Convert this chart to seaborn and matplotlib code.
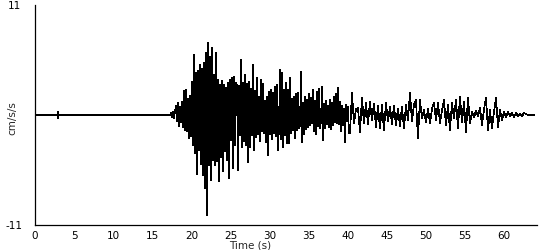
import numpy as np
import pandas as pd
import matplotlib
matplotlib.use("Agg")
import matplotlib.pyplot as plt
import seaborn as sns

# ---- data ----
# quiet part of the record (time s, cm/s/s)
pre_time = [0.0, 2.90, 2.94, 2.98, 3.02, 17.30]
pre_acc = [0.0, 0.0, 0.3, -0.3, 0.0, 0.0]

# strong-motion part, sampled every ~0.128 s starting at 17.39 s
strong_start = 17.39
strong_step = 0.1279
strong_acc = [
    0.2, -0.2, 0.3, -0.3, 0.4,
    0.9, -0.6, 1.2, -1.1, 0.8, -0.7, 1.3, -1.2,
    2.4, -1.5, 2.5, -1.6, 1.6, -2.3, 1.9,
    -2.1, 3.3, -3.0, 6.0, -3.8, 4.2, -5.9, 4.4, -3.5, 5.0,
    -4.9, 4.6, -6.0, 5.2, -7.3, 6.2, -10.0, 7.2, -5.0, 5.8,
    -6.5, 6.7, -4.5, 4.0, -5.0, 6.2, -4.6, 3.5, -6.6, 3.0,
    -4.2, 3.4, -5.6, 3.0, -3.6, 2.7, -4.5, 3.2, -6.3, 3.5,
    -2.5, 3.7, -5.3, 3.8, -3.0, 3.2, 3.0, -5.5, 2.9, -2.0,
    5.5, -3.2, 3.2, -2.6, 4.0, -3.0, 3.1, -4.7, 3.3, -3.2,
    2.6, -2.0, 5.0, -3.5, 2.4, -2.2, 3.7, -1.9, 1.8, -2.6,
    3.5, -1.6, 3.1, -1.8, 1.4, -2.7, 1.8, -4.0, 2.3, -1.9,
    2.5, -2.4, 2.2, -1.8, 2.8, -2.1, 3.0, -3.5, -1.2, 4.5,
    -2.4, 4.2, -3.2, 2.5, -2.0, 3.2, -2.8, 2.5, -2.8, 3.7,
    -1.8, 1.6, -1.5, 1.8, -2.3, 2.1, -1.5, 2.2, -1.3, -1.0,
    4.3, -2.7, 1.2, -1.9, 1.8, -1.4, 1.5, -1.2, 2.1, -1.0,
    1.7, -0.8, 2.5, -1.6, 1.4, -1.9, 2.3, -1.1, 2.6, -1.3,
    -0.6, 2.8, -2.5, 1.1, -1.3, 1.4, -0.9, 0.9, -1.2, 1.5,
    -1.4, 1.2, -1.0, 1.8, -0.7, 2.1, -0.8, 2.7, -0.9, 1.3,
    -1.6, 0.9, -1.0, 0.6, -2.7, 1.0, -0.6, 0.8, -1.8,
]

# coda, sampled every ~0.256 s starting at 40.28 s
coda_start = 40.28
coda_step = 0.2558
coda_acc = [
    -1.8, 2.2, -0.8, 0.6, 0.7, -1.7, 1.7, -0.8, 1.2, -0.9,
    1.3, -0.5, 1.1, -1.2, 0.9, -1.3, 1.0, -1.5, 1.2, -0.6,
    0.8, -0.9, 0.9, -1.0, 0.6, -1.1, 0.8, -1.3, 1.0, -0.5,
    2.2, -0.6, 1.0, 1.5, -2.3, 1.5, -0.3, 0.5, -0.7, 0.6,
    -0.8, 0.6, 1.2, -0.5, 1.2, -0.8, 0.4, 1.5, -1.0, 1.0,
    -1.5, 1.2, -0.3, 1.5, -1.3, 1.8, -0.7, 1.3, -1.7, 1.7,
    -0.8, 0.3, -0.2, 0.4, -0.1, 0.7, -1.0, 0.5, 1.7, -1.5,
    0.5, -1.3, 0.3, 1.7, -1.2, 0.5, -0.5, 0.3, -0.2, 0.3,
    -0.1, 0.2, -0.2, 0.2, -0.1, 0.1, -0.1, 0.2, 0.1, 0.0,
    0.0, 0.0, 0.0,
]

x_ticks = [0, 5, 10, 15, 20, 25, 30, 35, 40, 45, 50, 55, 60]
y_ticks = [-11, 11]

# ---- build table ----
strong_time = strong_start + strong_step * np.arange(len(strong_acc))
coda_time = coda_start + coda_step * np.arange(len(coda_acc))
df = pd.DataFrame({
    "t": np.concatenate([pre_time, strong_time, coda_time]),
    "a": np.concatenate([pre_acc, strong_acc, coda_acc]),
})

sns.set_style("white")
plt.rcParams["font.family"] = ["DejaVu Sans"]

fig = plt.figure(figsize=(5.5, 2.5), dpi=100)
ax = fig.add_axes([35 / 550, 25 / 250, 502 / 550, 220 / 250])
sns.lineplot(data=df, x="t", y="a", sort=False, estimator=None,
             color="black", linewidth=0.5, antialiased=False, ax=ax)

ax.set_xlim(0, 64.2)
ax.set_ylim(-11, 11)
ax.set_xticks(x_ticks)
ax.set_yticks(y_ticks)
ax.set_yticklabels([str(v) for v in y_ticks])
ax.tick_params(axis="both", direction="out", length=3, width=0.8,
               labelsize=7.5, colors="black", pad=1)
ax.tick_params(axis="y", pad=12)
for s in ["top", "right"]:
    ax.spines[s].set_visible(False)
for s in ["left", "bottom"]:
    ax.spines[s].set_color("black")
    ax.spines[s].set_linewidth(0.9)

ax.set_xlabel("Time (s)", fontsize=7.5)
ax.xaxis.set_label_coords(215 / 502, -0.095)
ax.xaxis.label.set_va("center")
ax.set_ylabel("cm/s/s", fontsize=7.5)
ax.yaxis.set_label_coords(-23 / 502, 0.486)
ax.yaxis.label.set_va("center")

for lbl in ax.get_yticklabels():
    lbl.set_ha("center")

fig.savefig("out.png", dpi=100, facecolor="white")
